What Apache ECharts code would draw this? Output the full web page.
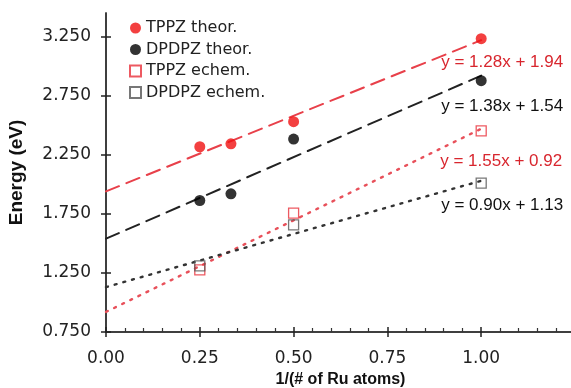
<!DOCTYPE html>
<html><head><meta charset="utf-8">
<script src="https://cdn.jsdelivr.net/npm/echarts@6/dist/echarts.min.js"></script>
<style>html,body{margin:0;padding:0;background:#fff}#c{width:571px;height:388px}</style>
</head><body><div id="c"></div>
<script>
// data
var xTheor = [0.25, 0.333, 0.5, 1.0];
var tppzTheor = [2.318, 2.343, 2.53, 3.233];
var dpdpzTheor = [1.863, 1.92, 2.383, 2.877];
var xEchem = [0.25, 0.5, 1.0];
var tppzEchem = [1.275, 1.756, 2.453];
var dpdpzEchem = [1.31, 1.657, 2.01];
var fitSlopes = [1.28, 1.38, 1.55, 0.90];
var fitIntercepts = [1.94, 1.54, 0.92, 1.13];
var fitLabels = ['y = 1.28x + 1.94', 'y = 1.38x + 1.54', 'y = 1.55x + 0.92', 'y = 0.90x + 1.13'];
var fitRange = [0, 1.0];
var yTicks = [0.75, 1.25, 1.75, 2.25, 2.75, 3.25];
var xTicks = [0, 0.25, 0.5, 0.75, 1.0];
var legendNames = ['TPPZ theor.', 'DPDPZ theor.', 'TPPZ echem.', 'DPDPZ echem.'];

function pairs(xs, ys){ return xs.map(function(x,i){return [x, ys[i]];}); }

var fitColors = ['#e8404a', '#222222', '#e8505a', '#333333'];
var fitTypes = [[14,8],[14,8],[2,7],[2,7]];
var fitWidths = [2,2,2.4,2.4];
var labelOffsets = [[-40,22],[-40,31],[-41,33],[-40,25]];
var labelColors = ['#d8262e','#111','#d8262e','#111'];

var fitSeries = fitSlopes.map(function(m,i){
  var b = fitIntercepts[i];
  var d = fitRange.map(function(x){ return [x, m*x + b]; });
  var data = [d[0], {value: d[1], label: {show: true}}];
  return {
    type: 'line', data: data, symbol: 'circle', symbolSize: 0.1, silent: true, z: 1,
    lineStyle: {color: fitColors[i], width: fitWidths[i], type: fitTypes[i], cap: 'round'},
    itemStyle: {color: 'transparent'},
    label: {show: false, position: 'inside', align: 'left', verticalAlign: 'middle',
      offset: labelOffsets[i], formatter: fitLabels[i], color: labelColors[i],
      fontFamily: 'Liberation Sans', fontSize: 17},
    legendHoverLink: false
  };
});

var tickStyle = {color: '#222', width: 1.5};
var option = {
  animation: false,
  backgroundColor: '#fff',
  grid: {left: 106, top: 13, right: -4, bottom: 56, outerBoundsMode: 'none', containLabel: false},
  legend: {
    data: legendNames, orient: 'vertical', left: 129, top: 20, itemGap: 5.5, padding: 0,
    itemWidth: 11, itemHeight: 11,
    textStyle: {fontFamily: 'DejaVu Sans', fontSize: 16, color: '#222'}
  },
  xAxis: [{
    type: 'value', min: 0, max: 1.25, interval: 0.25,
    name: '1/(# of Ru atoms)', nameLocation: 'middle', nameGap: 40,
    nameTextStyle: {fontFamily: 'Liberation Sans', fontWeight: 'bold', fontSize: 16, color: '#111'},
    axisLine: {lineStyle: {color: '#333', width: 1.5}},
    axisTick: {show: true, inside: true, length: 5, lineStyle: tickStyle},
    minorTick: {show: true, splitNumber: 5, length: 4, lineStyle: {color: '#333', width: 1.2}},
    axisLabel: {fontFamily: 'DejaVu Sans', fontSize: 17, color: '#222', margin: 18, showMaxLabel: false,
      formatter: function(v){ return v.toFixed(2); }},
    splitLine: {show: false}
  }, {
    type: 'value', min: 0, max: 1.25, interval: 0.25, position: 'bottom', offset: 0,
    axisLine: {show: true, lineStyle: {color: '#333', width: 1.5}},
    axisTick: {show: true, inside: false, length: 5, lineStyle: tickStyle},
    axisLabel: {show: false}, splitLine: {show: false}
  }],
  yAxis: [{
    type: 'value', min: 0.75, max: 3.45, interval: 0.5,
    name: 'Energy (eV)', nameLocation: 'middle', nameGap: 80,
    nameTextStyle: {fontFamily: 'Liberation Sans', fontWeight: 'bold', fontSize: 19, color: '#111'},
    axisLine: {show: true, lineStyle: {color: '#333', width: 1.5}},
    axisTick: {show: true, inside: true, length: 5, customValues: yTicks, lineStyle: tickStyle},
    axisLabel: {fontFamily: 'DejaVu Sans', fontSize: 17, color: '#222', margin: 15, customValues: yTicks,
      formatter: function(v){ return v.toFixed(3); }},
    splitLine: {show: false}
  }, {
    type: 'value', min: 0.75, max: 3.45, interval: 0.5, position: 'left', offset: 0,
    axisLine: {show: true, lineStyle: {color: '#333', width: 1.5}},
    axisTick: {show: true, inside: false, length: 5, customValues: yTicks, lineStyle: tickStyle},
    axisLabel: {show: false, customValues: yTicks}, splitLine: {show: false}
  }],
  series: fitSeries.concat([
    {name: legendNames[0], type: 'scatter', data: pairs(xTheor, tppzTheor), symbol: 'circle', symbolSize: 11, z: 5,
      itemStyle: {color: '#f01010'}},
    {name: legendNames[1], type: 'scatter', data: pairs(xTheor, dpdpzTheor), symbol: 'circle', symbolSize: 11, z: 5,
      itemStyle: {color: '#000'}},
    {name: legendNames[2], type: 'scatter', data: pairs(xEchem, tppzEchem), symbol: 'rect', symbolSize: 10, z: 5,
      itemStyle: {color: 'rgba(255,255,255,0)', borderColor: '#e8303a', borderWidth: 1.3}},
    {name: legendNames[3], type: 'scatter', data: pairs(xEchem, dpdpzEchem), symbol: 'rect', symbolSize: 10, z: 5,
      itemStyle: {color: 'rgba(255,255,255,0)', borderColor: '#555', borderWidth: 1.3}}
  ])
};
var chart = echarts.init(document.getElementById('c'), null, {renderer: 'canvas'});
chart.setOption(option);
</script></body></html>
